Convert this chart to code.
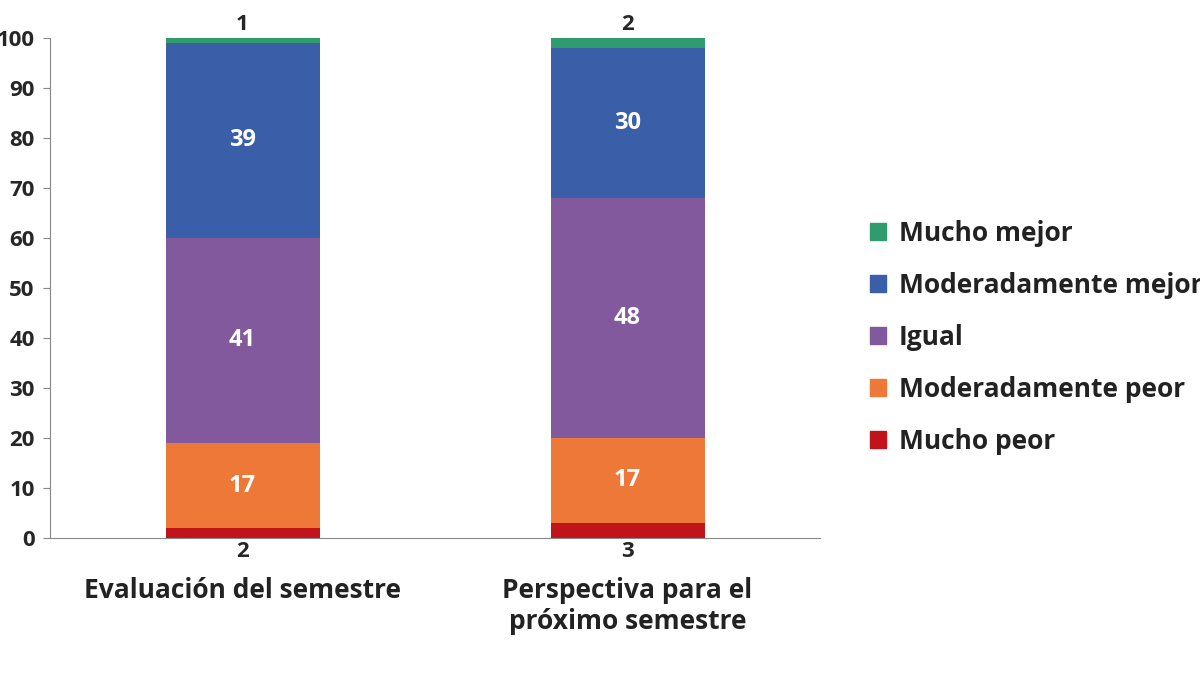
import numpy as np, pandas as pd, seaborn as sns, matplotlib
matplotlib.use("Agg")
import matplotlib.pyplot as plt
from matplotlib.patches import Patch

categories = ["Evaluación del semestre", "Perspectiva para el\npróximo semestre"]
series = ["Mucho peor", "Moderadamente peor", "Igual", "Moderadamente mejor", "Mucho mejor"]
mucho_peor = [2, 3]
mod_peor = [17, 17]
igual = [41, 48]
mod_mejor = [39, 30]
mucho_mejor = [1, 2]
colors = ["#c0141a", "#ee7838", "#82599c", "#3b5ea9", "#2e9c6c"]

sns.set_style("white")
plt.rcParams["font.family"] = ["Open Sans", "DejaVu Sans"]
plt.rcParams["font.weight"] = "bold"

fig = plt.figure(figsize=(12, 6.75), dpi=100)
ax = fig.add_axes([50/1200, 1-538/675, 770/1200, 500/675])
vals = [mucho_peor, mod_peor, igual, mod_mejor, mucho_mejor]
bottom = np.zeros(2)
for s, v, c in zip(series, vals, colors):
    df = pd.DataFrame({"cat": categories, "v": v})
    sns.barplot(data=df, x="cat", y="v", bottom=bottom, color=c, width=0.4,
                ax=ax, saturation=1, edgecolor="none")
    for i, val in enumerate(v):
        if val >= 10:
            ax.text(i, bottom[i] + val/2, str(val), ha="center", va="center",
                    color="white", fontsize=17, fontweight="bold")
    bottom += np.array(v)
for i in range(2):
    ax.text(i, -0.6, str(mucho_peor[i]), ha="center", va="top", fontsize=16, fontweight="bold")
    ax.text(i, 100.6, str(mucho_mejor[i]), ha="center", va="bottom", fontsize=16, fontweight="bold")

ax.set_ylim(0, 100)
ax.set_xlim(-0.5, 1.5)
ax.set_yticks(range(0, 101, 10))
ax.set_yticklabels([str(t) for t in range(0, 101, 10)], fontsize=16)
ax.set_xticks([0, 1])
ax.set_xticklabels(categories, fontsize=19, color="#222222")
ax.tick_params(axis="x", pad=28, length=0)
ax.tick_params(axis="y", length=5, color="#888888", left=True, pad=6)
ax.set_xlabel(""); ax.set_ylabel("")
for sp in ["top", "right"]:
    ax.spines[sp].set_visible(False)
for sp in ["left", "bottom"]:
    ax.spines[sp].set_color("#888888")

handles = [Patch(color=c, label=s) for s, c in zip(series, colors)][::-1]
fig.legend(handles=handles, loc="center left", bbox_to_anchor=(0.705, 0.50),
           frameon=False, fontsize=19, handlelength=0.6, handleheight=0.6,
           labelspacing=0.95, handletextpad=0.5, labelcolor="#222222")
fig.savefig("out.png", dpi=100)
